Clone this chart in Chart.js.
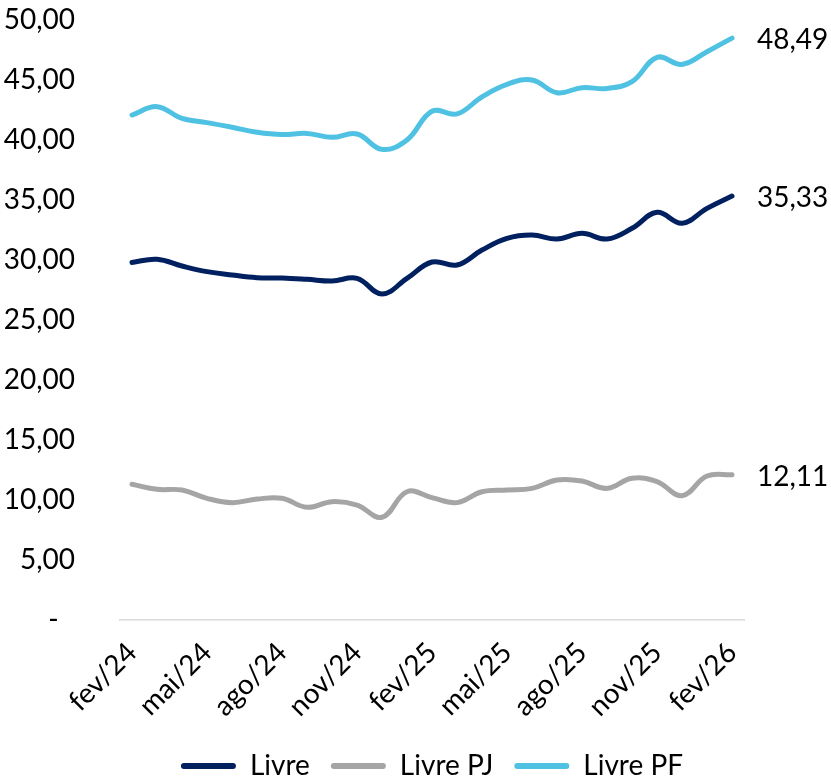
<!DOCTYPE html>
<html>
<head>
<meta charset="utf-8">
<script src="https://cdn.jsdelivr.net/npm/chart.js@4.4.1/dist/chart.umd.min.js"></script>
<style>
  html, body { margin: 0; padding: 0; background: #ffffff; }
  #wrap { width: 831px; height: 780px; }
</style>
</head>
<body>
<div id="wrap"><canvas id="c" width="831" height="780"></canvas></div>
<script>
// ---- data ----
const months = ["fev/24","mar/24","abr/24","mai/24","jun/24","jul/24","ago/24","set/24","out/24","nov/24","dez/24","jan/25",
                "fev/25","mar/25","abr/25","mai/25","jun/25","jul/25","ago/25","set/25","out/25","nov/25","dez/25","jan/26","fev/26"];
const livre   = [29.80, 30.06, 29.50, 29.03, 28.75, 28.53, 28.50, 28.39, 28.25, 28.47, 27.17, 28.47,
                 29.83, 29.58, 30.83, 31.80, 32.08, 31.75, 32.22, 31.75, 32.64, 33.97, 33.06, 34.30, 35.33];
const livrePJ = [11.31, 10.89, 10.83, 10.14, 9.78, 10.08, 10.14, 9.39, 9.86, 9.58, 8.56, 10.69,
                 10.20, 9.78, 10.69, 10.83, 10.97, 11.67, 11.58, 10.97, 11.81, 11.53, 10.36, 12.00, 12.11];
const livrePF = [42.08, 42.78, 41.80, 41.45, 41.06, 40.64, 40.45, 40.55, 40.22, 40.50, 39.22, 40.00,
                 42.40, 42.17, 43.60, 44.64, 45.00, 43.94, 44.36, 44.30, 44.86, 46.89, 46.30, 47.36, 48.49];
const seriesNames = ["Livre", "Livre PJ", "Livre PF"];
const yTicks = [0, 5, 10, 15, 20, 25, 30, 35, 40, 45, 50];

const FONT = "Lato";
const fmt = v => v.toFixed(2).replace(".", ",");

const endLabels = {
  id: "endLabels",
  afterDatasetsDraw(chart) {
    const ctx = chart.ctx;
    ctx.save();
    ctx.font = "28px " + FONT;
    ctx.fillStyle = "#000000";
    ctx.textAlign = "left";
    ctx.textBaseline = "middle";
    chart.data.datasets.forEach((ds, i) => {
      const meta = chart.getDatasetMeta(i);
      const last = meta.data[meta.data.length - 1];
      ctx.fillText(fmt(ds.data[ds.data.length - 1]), last.x + 25, last.y + 2);
    });
    ctx.restore();
  }
};

new Chart(document.getElementById("c"), {
  type: "line",
  data: {
    labels: months,
    datasets: [
      { label: seriesNames[0], data: livre,   borderColor: "#002060", backgroundColor: "#002060" },
      { label: seriesNames[1], data: livrePJ, borderColor: "#A5A5A5", backgroundColor: "#A5A5A5" },
      { label: seriesNames[2], data: livrePF, borderColor: "#4FC1E2", backgroundColor: "#4FC1E2" }
    ]
  },
  options: {
    responsive: false,
    animation: false,
    layout: { padding: { left: 0, right: 86.5, top: 20, bottom: -10 } },
    elements: {
      line: { borderWidth: 5, tension: 0.4, borderCapStyle: "round", borderJoinStyle: "round", fill: false },
      point: { radius: 0, hoverRadius: 0 }
    },
    plugins: {
      tooltip: { enabled: false },
      legend: {
        position: "bottom",
        fullSize: false,
        labels: {
          font: { family: FONT, size: 28 },
          color: "#000000",
          boxWidth: 55,
          boxHeight: 6,
          useBorderRadius: true,
          borderRadius: 3,
          padding: 21,
          generateLabels(chart) {
            return chart.data.datasets.map((ds, i) => ({
              text: ds.label,
              fillStyle: ds.borderColor,
              strokeStyle: ds.borderColor,
              lineWidth: 0,
              borderRadius: 3,
              fontColor: "#000000",
              datasetIndex: i,
              hidden: false
            }));
          }
        }
      }
    },
    scales: {
      x: {
        offset: true,
        grid: { display: false },
        border: { display: true, color: "#D9D9D9", width: 1.5 },
        ticks: {
          autoSkip: false,
          maxRotation: 45,
          minRotation: 45,
          color: "#000000",
          font: { family: FONT, size: 28 },
          padding: 8,
          callback(value, index) { return index % 3 === 0 ? months[index] : ""; }
        },
        afterFit(scale) { scale.height = 111; }
      },
      y: {
        min: 0,
        max: 50,
        grid: { display: false },
        border: { display: false },
        afterBuildTicks(scale) { scale.ticks = yTicks.map(v => ({ value: v })); },
        ticks: {
          color: "#000000",
          font: { family: FONT, size: 28 },
          padding: 36.5,
          callback(value) { return value === 0 ? "-\u2007" : fmt(value); }
        },
        afterFit(scale) {
          scale.width = 119.5;
          scale.paddingTop = 0;
          scale.paddingBottom = 0;
        }
      }
    }
  },
  plugins: [endLabels]
});
</script>
</body>
</html>
